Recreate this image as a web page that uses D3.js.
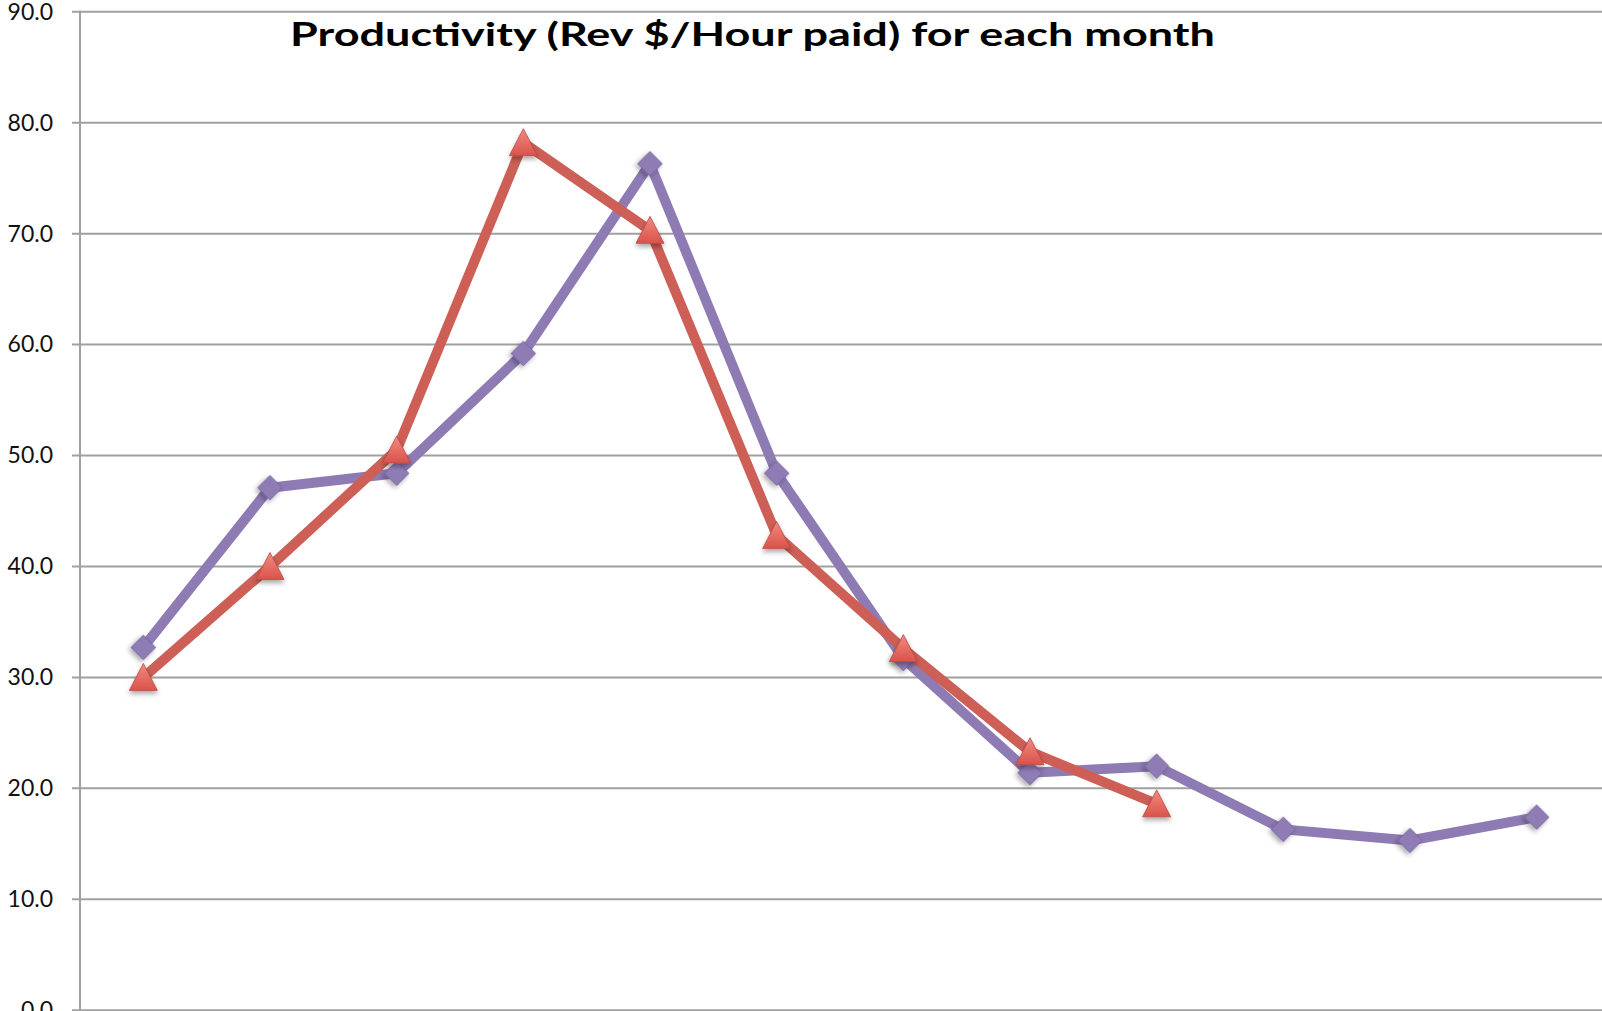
<!DOCTYPE html>
<meta charset="utf-8">
<style>
body { margin: 0; background: #fff; }
text { font-family: Lato, "Open Sans", sans-serif; }
.grid line { stroke: #a0a0a0; stroke-width: 2px; }
.y_axis text { font-size: 23px; fill: #111; }
</style>
<svg width="1602" height="1011"></svg>
<script src="https://cdn.jsdelivr.net/npm/d3@7/dist/d3.min.js"></script>
<script>

var months = ["Jan", "Feb", "Mar", "Apr", "May", "Jun", "Jul", "Aug", "Sep", "Oct", "Nov", "Dec"]
var yTicks = [0, 10, 20, 30, 40, 50, 60, 70, 80, 90]

// purple diamonds, all 12 months
var seriesA = [32.7, 47.1, 48.4, 59.2, 76.3, 48.4, 31.7, 21.4, 22.0, 16.3, 15.3, 17.4]
// red triangles, stops after 9 months
var seriesB = [30.0, 40.0, 50.5, 78.2, 70.3, 42.8, 32.6, 23.3, 18.6]

var title = "Productivity (Rev $/Hour paid) for each month"

var svg = d3.select("svg")
var width = +svg.attr("width")

var x = d3.scaleBand()
    .domain(months)
    .range([80, 1600])

var y = d3.scaleLinear()
    .domain([0, 90])
    .range([1010.2, 11.8])

var defs = svg.append("defs")

var shadow = defs.append("filter")
    .attr("id", "shadow")
    .attr("x", "-50%").attr("y", "-50%")
    .attr("width", "200%").attr("height", "200%")
shadow.append("feDropShadow")
    .attr("dx", 0).attr("dy", 3)
    .attr("stdDeviation", 2.5)
    .attr("flood-color", "#000")
    .attr("flood-opacity", 0.35)

var grad = defs.append("linearGradient")
    .attr("id", "tri")
    .attr("x1", 0).attr("y1", 0).attr("x2", 0).attr("y2", 1)
grad.append("stop").attr("offset", "0%").attr("stop-color", "#f28a80")
grad.append("stop").attr("offset", "100%").attr("stop-color", "#d9534b")

// gridlines
svg.append("g")
    .attr("class", "grid")
  .selectAll("line")
  .data(yTicks)
  .enter().append("line")
    .attr("x1", 72)
    .attr("x2", width)
    .attr("y1", function(d) { return y(d) })
    .attr("y2", function(d) { return y(d) })

svg.append("g")
    .attr("class", "y_axis")
    .attr("transform", "translate(80, 0)")
    .call(d3.axisLeft(y).tickValues(yTicks).tickFormat(d3.format(".1f")).tickSize(8).tickPadding(19))
    .call(function(g) {
      g.select(".domain").remove()
      g.selectAll(".tick line").remove()
      g.selectAll("text").attr("font-family", null).attr("font-size", null)
    })

svg.append("line")
    .attr("x1", 80).attr("x2", 80)
    .attr("y1", y(90) - 1).attr("y2", 1011)
    .attr("stroke", "#a0a0a0")
    .attr("stroke-width", 2)

var line = d3.line()
    .x(function(d, i) { return x(months[i]) + x.bandwidth() / 2 })
    .y(function(d) { return y(d) })

// purple series
svg.append("path")
    .datum(seriesA)
    .attr("d", line)
    .attr("fill", "none")
    .attr("stroke", "#8f7bb4")
    .attr("stroke-width", 10)
    .attr("stroke-linejoin", "round")

svg.append("g").selectAll("path")
  .data(seriesA)
  .enter().append("path")
    .attr("d", d3.symbol().type(d3.symbolSquare).size(300))
    .attr("transform", function(d, i) {
      return "translate(" + (x(months[i]) + x.bandwidth() / 2) + "," + y(d) + ") rotate(45)"
    })
    .attr("fill", "#8f7bb4")
    .attr("stroke", "#7a66a0")
    .attr("stroke-width", 0.8)
    .attr("filter", "url(#shadow)")

// red series
svg.append("path")
    .datum(seriesB)
    .attr("d", line)
    .attr("fill", "none")
    .attr("stroke", "#cd5f56")
    .attr("stroke-width", 10)
    .attr("stroke-linejoin", "round")

svg.append("g").selectAll("path")
  .data(seriesB)
  .enter().append("path")
    .attr("d", "M0,-14L14,13L-14,13Z")
    .attr("transform", function(d, i) {
      return "translate(" + (x(months[i]) + x.bandwidth() / 2) + "," + y(d) + ")"
    })
    .attr("fill", "url(#tri)")
    .attr("stroke", "#b94a43")
    .attr("stroke-width", 0.8)
    .attr("filter", "url(#shadow)")

svg.append("text")
    .attr("x", 290)
    .attr("y", 46)
    .attr("textLength", 925)
    .attr("lengthAdjust", "spacingAndGlyphs")
    .style("font-size", "32px")
    .style("font-weight", "bold")
    .style("fill", "#000")
    .text(title)

</script>
